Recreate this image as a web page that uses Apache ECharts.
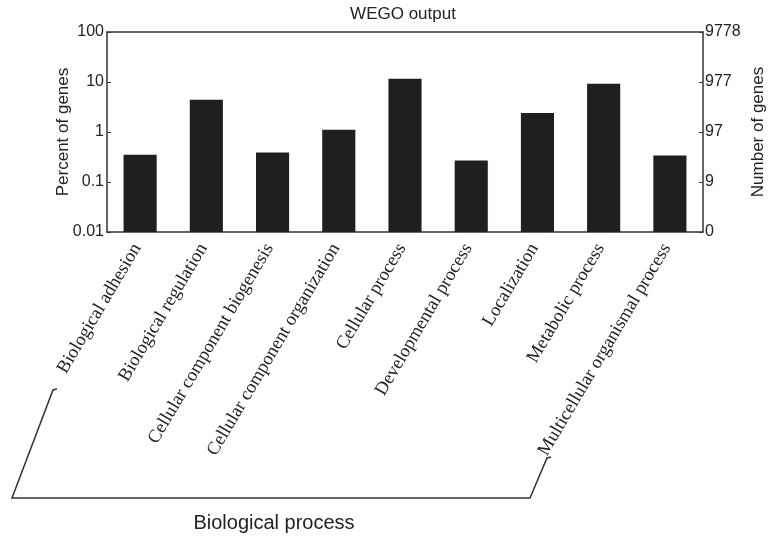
<!DOCTYPE html>
<html>
<head>
<meta charset="utf-8">
<script src="https://cdn.jsdelivr.net/npm/echarts@6/dist/echarts.min.js"></script>
<style>
html,body{margin:0;padding:0;background:#fff;}
#chart{width:768px;height:540px;}
</style>
</head>
<body>
<div id="chart"></div>
<script>
var categories = [
  'Biological adhesion',
  'Biological regulation',
  'Cellular component biogenesis',
  'Cellular component organization',
  'Cellular process',
  'Developmental process',
  'Localization',
  'Metabolic process',
  'Multicellular organismal process'
];
var percentValues = [0.35, 4.43, 0.39, 1.11, 11.6, 0.27, 2.4, 9.25, 0.34];
var leftTickLabels = ['0.01', '0.1', '1', '10', '100'];
var rightTickLabels = ['0', '9', '97', '977', '9778'];
var axisMin = 0.01, axisMax = 100;

var chart = echarts.init(document.getElementById('chart'));
var sans = 'Liberation Sans, Arial, sans-serif';
var serif = 'Liberation Serif, Times New Roman, serif';
var ink = '#222';

function tickIndex(v) { return Math.round(Math.log(v) / Math.LN10) + 2; }

var barData = categories.map(function (c, i) { return [i, percentValues[i]]; });

chart.setOption({
  animation: false,
  backgroundColor: '#fff',
  grid: { left: 107, right: 65, top: 32, bottom: 308, outerBoundsMode: 'none', containLabel: false },
  xAxis: [{
    type: 'category',
    data: categories,
    position: 'bottom',
    axisLine: { lineStyle: { color: '#333', width: 1.5 } },
    axisTick: { inside: true, length: 4, lineStyle: { color: '#333' } },
    axisLabel: {
      rotate: 59.3, margin: 8, interval: 0, padding: [0, 6, 0, 0],
      fontFamily: serif, fontSize: 18.5, color: ink
    }
  }, {
    type: 'category',
    data: categories,
    position: 'top',
    axisLine: { lineStyle: { color: '#333', width: 1.5 } },
    axisTick: { inside: true, length: 4, lineStyle: { color: '#333' } },
    axisLabel: { show: false }
  }],
  yAxis: [{
    type: 'log', logBase: 10, min: axisMin, max: axisMax,
    position: 'left',
    name: 'Percent of genes', nameLocation: 'middle', nameGap: 35, nameMoveOverlap: false,
    nameTextStyle: { fontFamily: sans, fontSize: 17, color: ink },
    axisLine: { show: true, lineStyle: { color: '#333', width: 1.5 } },
    axisTick: { show: true, inside: true, length: 4, lineStyle: { color: '#333' } },
    minorTick: { show: false },
    splitLine: { show: false },
    axisLabel: {
      margin: 3, fontFamily: sans, fontSize: 16, color: ink,
      formatter: function (v) { return leftTickLabels[tickIndex(v)]; }
    }
  }, {
    type: 'log', logBase: 10, min: axisMin, max: axisMax,
    position: 'right',
    name: 'Number of genes', nameLocation: 'middle', nameGap: 47, nameMoveOverlap: false,
    nameTextStyle: { fontFamily: sans, fontSize: 17, color: ink },
    axisLine: { show: true, lineStyle: { color: '#333', width: 1.5 } },
    axisTick: { show: true, inside: true, length: 4, lineStyle: { color: '#333' } },
    splitLine: { show: false },
    axisLabel: {
      margin: 2, fontFamily: sans, fontSize: 16, color: ink,
      formatter: function (v) { return rightTickLabels[tickIndex(v)]; }
    }
  }],
  series: [{
    type: 'custom',
    data: barData,
    encode: { x: 0, y: 1 },
    renderItem: function (params, api) {
      var idx = api.value(0);
      var top = api.coord([idx, api.value(1)]);
      var base = api.coord([idx, axisMin]);
      var w = api.size([1, 0])[0] * 0.5;
      return {
        type: 'rect',
        shape: { x: top[0] - w / 2, y: top[1], width: w, height: base[1] - top[1] },
        style: { fill: '#211e1f' }
      };
    }
  }],
  graphic: [{
    type: 'text',
    style: {
      text: 'WEGO output', x: 403, y: 14,
      align: 'center', verticalAlign: 'middle',
      font: '17px ' + sans, fill: ink
    }
  }, {
    type: 'polyline',
    shape: { points: [[57, 389], [53, 390], [12, 498], [530, 498], [547, 458], [551, 457]] },
    style: { stroke: '#333', lineWidth: 1.5, fill: null }
  }, {
    type: 'text',
    style: {
      text: 'Biological process', x: 274, y: 523,
      align: 'center', verticalAlign: 'middle',
      font: '20px ' + sans, fill: ink
    }
  }]
});
</script>
</body>
</html>
